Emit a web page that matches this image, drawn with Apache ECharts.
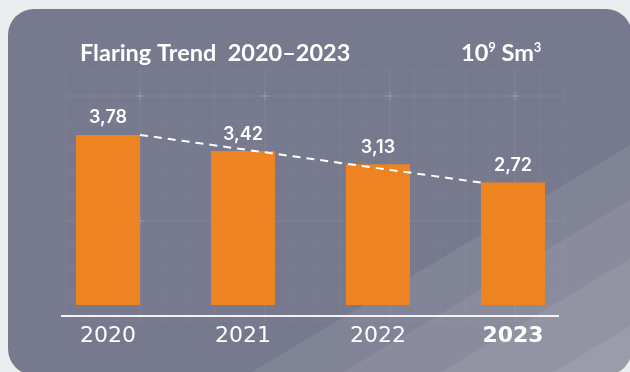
<!DOCTYPE html>
<html>
<head>
<meta charset="utf-8">
<script src="https://cdn.jsdelivr.net/npm/echarts@6/dist/echarts.min.js"></script>
<style>
  html, body { margin: 0; padding: 0; background: #ecedf0; }
  #chart { width: 630px; height: 372px; }
</style>
</head>
<body>
<div id="chart"></div>
<script>
// Flaring volumes per year, 10^9 Sm3
const years = ['2020', '2021', '2022', '2023'];
const flaring = [3.78, 3.42, 3.13, 2.72];
const titleText = 'Flaring Trend  2020\u20132023';
const unitText = '10{sup|9} Sm{sup|3}';

const W = 630, H = 372;
const gridLeft = 40.5, gridRight = 49.5, gridTop = 102.5, gridBottom = 67;
const barWidth = 64;
const yMax = 4.5;

const comma = v => v.toFixed(2).replace('.', ',');

// half a bar, in category units, so the trend line starts/ends at bar edges
const bandPx = (W - gridLeft - gridRight) / years.length;
const halfBar = (barWidth / 2) / bandPx;
const last = years.length - 1;

// card background, diagonal light bands and faint blueprint grid
const card = { x: 8, y: 9, w: 624, h: 366, r: 26 };
const decor = [];
decor.push({
  type: 'rect', z: -20,
  shape: { x: card.x, y: card.y, width: card.w, height: card.h, r: card.r },
  style: { fill: '#777a8e' }
});
// bottom-right corner arc of the card, down to the bottom of the canvas
const right = card.x + card.w, cornerCx = right - card.r, cornerCy = card.y + card.h - card.r;
const cornerPts = [];
const aMax = Math.asin(Math.min(1, (H - cornerCy) / card.r));
for (let k = 0; k <= 8; k++) {
  const a = aMax * k / 8;
  cornerPts.push([cornerCx + card.r * Math.cos(a), cornerCy + card.r * Math.sin(a)]);
}
// diagonal bands: everything below the line y = c - 0.6x gets a little lighter
const slope = 0.6;
[523, 578, 637, 704].forEach(c => {
  decor.push({
    type: 'polygon', z: -19,
    shape: { points: [[(c - H) / slope, H], [right, c - slope * right]].concat(cornerPts) },
    style: { fill: 'rgba(255,255,255,0.075)' }
  });
});
// blueprint grid
const gx0 = 65, gx1 = 565, gy0 = 71, gy1 = 321;
for (let x = 65; x <= gx1; x += 25) {
  const major = (x - 15) % 125 === 0;
  decor.push({
    type: 'line', z: -18,
    shape: { x1: x, y1: gy0, x2: x, y2: gy1 },
    style: { stroke: major ? 'rgba(255,255,255,0.08)' : 'rgba(255,255,255,0.04)', lineWidth: 1 }
  });
}
for (let y = 71; y <= gy1; y += 25) {
  const major = (y - 96) % 125 === 0;
  decor.push({
    type: 'line', z: -18,
    shape: { x1: gx0, y1: y, x2: gx1, y2: y },
    style: { stroke: major ? 'rgba(255,255,255,0.08)' : 'rgba(255,255,255,0.04)', lineWidth: 1 }
  });
}
[140, 265, 390, 515].forEach(cx => {
  [96, 221].forEach(cy => {
    decor.push({
      type: 'line', z: -17,
      shape: { x1: cx - 4, y1: cy, x2: cx + 4, y2: cy },
      style: { stroke: 'rgba(255,255,255,0.09)', lineWidth: 2 }
    });
    decor.push({
      type: 'line', z: -17,
      shape: { x1: cx, y1: cy - 4, x2: cx, y2: cy + 4 },
      style: { stroke: 'rgba(255,255,255,0.09)', lineWidth: 2 }
    });
  });
});
// baseline under the bars
decor.push({
  type: 'line', z: 5,
  shape: { x1: 61, y1: 316, x2: 559, y2: 316 },
  style: { stroke: '#f4f4f7', lineWidth: 2 }
});

const chart = echarts.init(document.getElementById('chart'), null, { renderer: 'canvas' });
chart.setOption({
  backgroundColor: '#ecedf0',
  animation: false,
  graphic: { elements: decor },
  title: [
    {
      text: titleText,
      left: 80, top: 41, padding: 0,
      textStyle: { color: '#ffffff', fontFamily: 'Lato', fontWeight: 'bold', fontSize: 23.5 }
    },
    {
      text: unitText,
      left: 461, top: 41, padding: 0,
      textStyle: {
        color: '#ffffff', fontFamily: 'Lato', fontWeight: 'bold', fontSize: 23.5,
        rich: {
          sup: { fontSize: 13, fontFamily: 'Lato', fontWeight: 'bold', color: '#ffffff', verticalAlign: 'top', lineHeight: 22 }
        }
      }
    }
  ],
  grid: { left: gridLeft, right: gridRight, top: gridTop, bottom: gridBottom },
  xAxis: [
    {
      type: 'category',
      data: years,
      axisLine: { show: false },
      axisTick: { show: false },
      axisLabel: {
        interval: 0,
        margin: 20,
        color: '#ffffff',
        fontFamily: 'DejaVu Sans',
        fontSize: 22,
        formatter: (v, i) => i === last ? '{b|' + v + '}' : v,
        rich: { b: { fontFamily: 'DejaVu Sans', fontSize: 22, fontWeight: 'bold', color: '#ffffff' } }
      }
    },
    { type: 'value', min: -0.5, max: years.length - 0.5, show: false }
  ],
  yAxis: { type: 'value', min: 0, max: yMax, show: false },
  series: [
    {
      type: 'bar',
      data: flaring,
      barWidth: barWidth,
      itemStyle: { color: '#ee8322' },
      label: {
        show: true,
        position: 'top',
        distance: 8,
        color: '#ffffff',
        fontFamily: 'Inter',
        fontWeight: 600,
        fontSize: 18,
        formatter: p => comma(p.value)
      }
    },
    {
      type: 'line',
      xAxisIndex: 1,
      symbol: 'none',
      z: 3,
      lineStyle: { color: '#ffffff', width: 2, type: [8, 6] },
      data: [[0 + halfBar, flaring[0]], [last - halfBar, flaring[last]]]
    }
  ]
});
</script>
</body>
</html>
